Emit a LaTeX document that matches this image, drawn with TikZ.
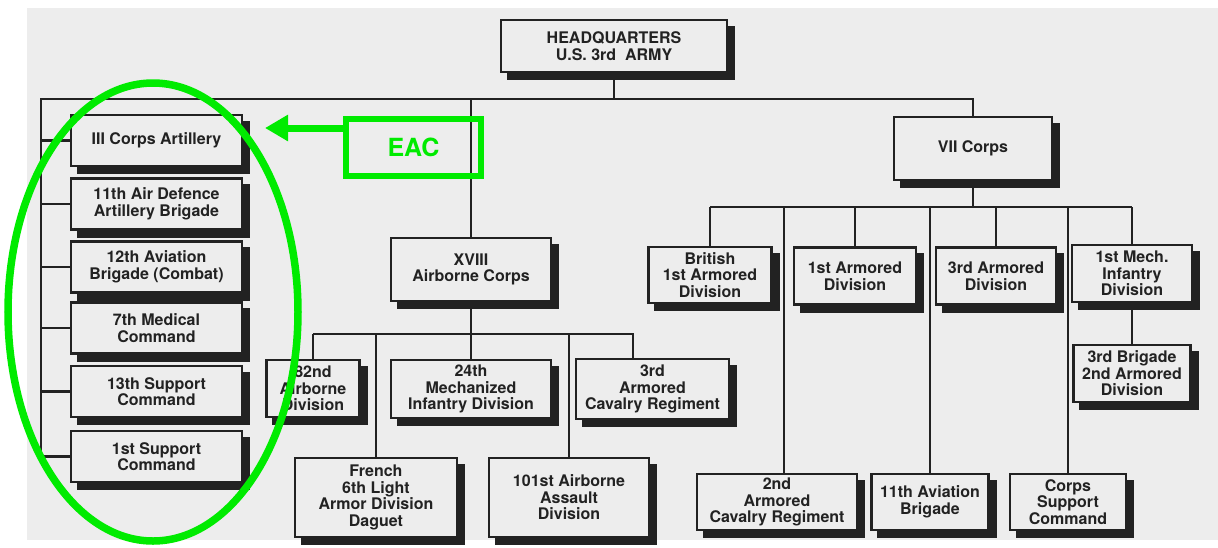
\documentclass[tikz,border=0pt]{standalone}
\usepackage{fontspec}
\setsansfont{TeX Gyre Heros}
\usetikzlibrary{arrows.meta}
\definecolor{paper}{HTML}{EDEDED}
\definecolor{ink}{HTML}{222222}
\definecolor{marker}{HTML}{00EB00}
\pgfdeclarelayer{back}
\pgfdeclarelayer{shade}
\pgfsetlayers{back,shade,main}

\begin{document}
\begin{tikzpicture}[x=1pt,y=1pt,
	unit/.style={draw=ink, line width=2.6pt, fill=paper, text=ink, align=center, inner sep=0pt,
		font=\sffamily\bfseries\fontsize{16}{16.6}\selectfont},
	link/.style={draw=ink, line width=2.2pt}]
	\useasboundingbox (0,0) rectangle (1218,-547);
	\begin{pgfonlayer}{back}
		\fill[white] (0,0) rectangle (1218,-547);
		\fill[paper] (27,-8) rectangle (1218,-540);
	\end{pgfonlayer}

	% headquarters
	\node[unit, minimum width=226pt, minimum height=52pt] (hq) at (614,-46) {HEADQUARTERS\\U.S. 3rd\ \ ARMY};
	\coordinate (bus) at (614,-99);
	\coordinate (busL) at (41,-99);

	% corps
	\node[unit, minimum width=160pt, minimum height=63pt] (xviii) at (471,-269.5) {XVIII\\Airborne Corps};
	\node[unit, minimum width=158pt, minimum height=63pt] (vii) at (973,-148.5) {VII Corps};
	\draw[link] (hq) -- (bus);
	\draw[link] (vii.north) |- (busL) -- (busL |- 0,-456.5);
	\draw[link] (xviii.north) -- (xviii.north |- bus);

	% army units
	\foreach \y/\txt [count=\i] in {140.5/{III Corps Artillery}, 204/{11th Air Defence\\Artillery Brigade},
		267/{12th Aviation\\Brigade (Combat)}, 328/{7th Medical\\Command},
		391.5/{13th Support\\Command}, 456.5/{1st Support\\Command}}{
		\node[unit, minimum width=171pt, minimum height=51pt] (army\i) at (156.5,-\y) {\txt};
		\draw[link] (army\i) -- (busL |- army\i);
	}

	% XVIII corps units
	\coordinate (xbarL) at (313,-334);
	\coordinate (xbarR) at (633,-334);
	\node[unit, minimum width=93pt, minimum height=57pt] (d82) at (313,-388.5) {82nd\\Airborne\\Division};
	\node[unit, minimum width=160pt, minimum height=58pt] (d24) at (471,-389) {24th\\Mechanized\\Infantry Division};
	\node[unit, minimum width=153pt, minimum height=60pt] (acr3) at (652.5,-389) {3rd\\Armored\\Cavalry Regiment};
	\node[unit, minimum width=162pt, minimum height=79pt] (french) at (376,-497.5) {French\\6th Light\\Armor Division\\Daguet};
	\node[unit, minimum width=160pt, minimum height=79pt] (d101) at (569,-497.5) {101st Airborne\\Assault\\Division};
	\draw[link] (xviii) -- (xviii |- xbarL);
	\draw[link] (xbarL) -- (xbarR) -- (xbarR |- acr3.north);
	\foreach \n in {d82,d24,french,d101}{
		\draw[link] (\n.north) -- (\n.north |- xbarL);
	}

	% VII corps units
	\coordinate (vbarL) at (710,-207);
	\coordinate (vbarR) at (1132,-207);
	\node[unit, minimum width=123pt, minimum height=56pt] (brit1) at (710,-275) {British\\1st Armored\\Division};
	\node[unit, minimum width=122pt, minimum height=57pt] (arm1) at (855,-276) {1st Armored\\Division};
	\node[unit, minimum width=120pt, minimum height=57pt] (arm3) at (996,-276) {3rd Armored\\Division};
	\node[unit, minimum width=120pt, minimum height=57pt] (mech1) at (1132,-273.5) {1st Mech.\\Infantry\\Division};
	\node[unit, minimum width=117pt, minimum height=57pt] (brig3) at (1132,-373.5) {3rd Brigade\\2nd Armored\\Division};
	\node[unit, minimum width=160pt, minimum height=56pt] (acr2) at (777,-502) {2nd\\Armored\\Cavalry Regiment};
	\node[unit, minimum width=117pt, minimum height=56pt] (avn11) at (930,-502) {11th Aviation\\Brigade};
	\node[unit, minimum width=116pt, minimum height=56pt] (cosc) at (1068,-502) {Corps\\Support\\Command};
	\draw[link] (vii) -- (vii |- vbarL);
	\draw[link] (vbarL) -- (vbarR);
	\foreach \n in {brit1,arm1,arm3,mech1,avn11,cosc}{
		\draw[link] (\n.north) -- (\n.north |- vbarL);
	}
	\draw[link] ([xshift=7pt]acr2.north) -- ([xshift=7pt]acr2.north |- vbarL);
	\draw[link] (mech1) -- (brig3);

	% drop shadows
	\begin{pgfonlayer}{shade}
		\foreach \n in {hq,xviii,vii,army1,army2,army3,army4,army5,army6,d82,d24,acr3,french,d101,
			brit1,arm1,arm3,mech1,brig3,acr2,avn11,cosc}{
			\fill[ink] ([shift={(7pt,-7pt)}]\n.south west) rectangle ([shift={(7pt,-7pt)}]\n.north east);
		}
	\end{pgfonlayer}

	% echelon above corps
	\node[draw=marker, line width=6.5pt, minimum width=135pt, minimum height=57pt, text=marker,
		font=\sffamily\bfseries\fontsize{25}{25}\selectfont] (eac) at (413.5,-147.5) {EAC};
	\coordinate (tip) at (265,-128);
	\draw[marker, line width=7pt, -{Triangle[length=23pt,width=25pt]}] (eac.west |- tip) -- (tip);
	\draw[marker, line width=7.5pt] (153,-312) ellipse [x radius=145pt, y radius=229pt];
\end{tikzpicture}
\end{document}
